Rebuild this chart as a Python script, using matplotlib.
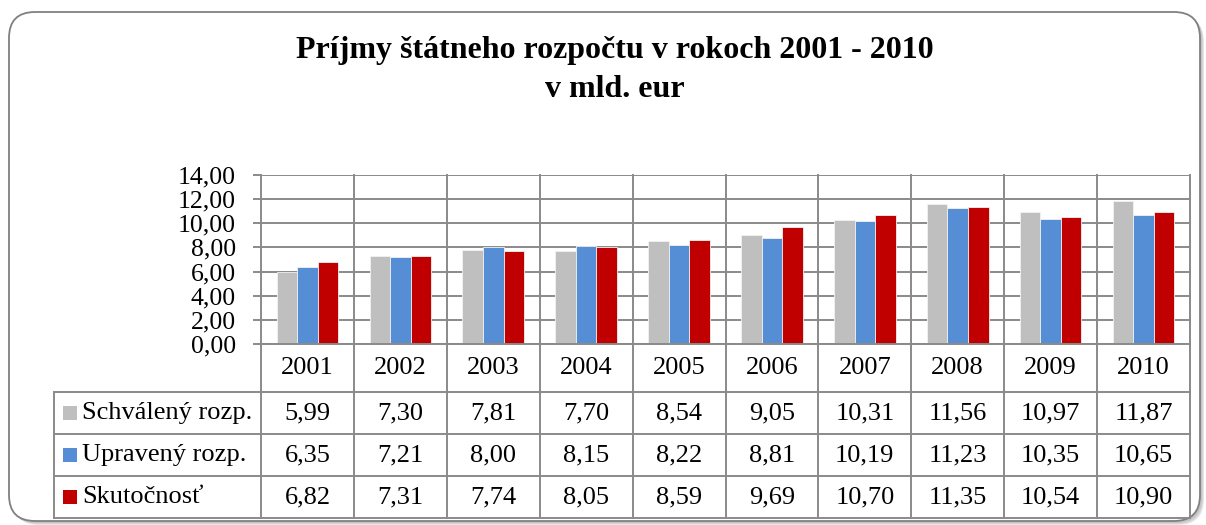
import matplotlib
matplotlib.use("Agg")
import matplotlib.pyplot as plt
from matplotlib.patches import FancyBboxPatch, Rectangle
from matplotlib.lines import Line2D
from matplotlib.transforms import IdentityTransform, blended_transform_factory

years = ["2001", "2002", "2003", "2004", "2005", "2006", "2007", "2008", "2009", "2010"]
schvaleny = [5.99, 7.30, 7.81, 7.70, 8.54, 9.05, 10.31, 11.56, 10.97, 11.87]
upraveny = [6.35, 7.21, 8.00, 8.15, 8.22, 8.81, 10.19, 11.23, 10.35, 10.65]
skutocnost = [6.82, 7.31, 7.74, 8.05, 8.59, 9.69, 10.70, 11.35, 10.54, 10.90]
series_names = ["Schválený rozp.", "Upravený rozp.", "Skutočnosť"]
series_colors = ["#BFBFBF", "#558ED5", "#C00000"]
title = "Príjmy štátneho rozpočtu v rokoch 2001 - 2010\nv mld. eur"

W, H = 1206, 525
plt.rcParams['font.family'] = ['Liberation Serif', 'DejaVu Serif']
grid_col = "#8A8A8A"
lw = 1.4
fs = 19

fig = plt.figure(figsize=(W / 100, H / 100), dpi=100)
fig.patch.set_facecolor("white")

# rounded frame with a soft shadow
ident = IdentityTransform()
for k, c in enumerate(["#E6E6E6", "#D4D4D4", "#C4C4C4"]):
    off = 4 - k
    fig.add_artist(FancyBboxPatch((9 + off, H - 521 - off), 1191, 509,
                                  boxstyle="round,pad=0,rounding_size=26",
                                  transform=ident, fc=c, ec="none", zorder=0))
fig.add_artist(FancyBboxPatch((9, H - 521), 1191, 509,
                              boxstyle="round,pad=0,rounding_size=26",
                              transform=ident, fc="white", ec="#808080", lw=1.3, zorder=1))

fig.text(615 / W, 1 - 70 / H, title, ha="center", va="center", fontsize=23,
         fontweight="bold", linespacing=1.45, zorder=3)

# plot area
x0, x1, ytop, ybot = 261, 1190, 175, 344
ax = fig.add_axes([x0 / W, 1 - ybot / H, (x1 - x0) / W, (ybot - ytop) / H], zorder=2)
ax.set_facecolor("none")
n = len(years)
bw = 0.221
xs = list(range(n))
for j, (vals, col) in enumerate(zip([schvaleny, upraveny, skutocnost], series_colors)):
    ax.bar([x + (j - 1) * bw for x in xs], vals, width=bw, color=col,
           edgecolor="#F2F2F2", linewidth=0.6, zorder=3)
ax.set_xlim(-0.5, n - 0.5)
ax.set_ylim(0, 14)
ax.set_yticks(range(0, 15, 2))
ax.set_yticklabels([f"{v:.2f}".replace(".", ",") for v in range(0, 15, 2)], fontsize=18.5)
ax.tick_params(axis="y", length=6, width=lw, color=grid_col, pad=12)
ax.tick_params(axis="x", length=0, labelbottom=False)
ax.yaxis.grid(True, color=grid_col, linewidth=lw, zorder=1)
for s in ax.spines.values():
    s.set_visible(False)
ax.set_axisbelow(True)

# data table under the plot
tr = blended_transform_factory(ax.transData, ax.transAxes)
hpx = ybot - ytop
def fy(py):
    return (ybot - py) / hpx

row_lines = [392, 434, 476, 518]
left_px = 54
xl_data = -0.5 - (x0 - left_px) / ((x1 - x0) / n)

def line(xa, xb, ya, yb):
    ax.add_line(Line2D([xa, xb], [ya, yb], transform=tr, color=grid_col,
                       lw=lw, clip_on=False, zorder=4))

for b in range(n + 1):
    line(b - 0.5, b - 0.5, fy(ytop), fy(518))
for py in row_lines:
    line(xl_data, n - 0.5, fy(py), fy(py))
line(xl_data, xl_data, fy(392), fy(518))
line(-0.5, n - 0.5, fy(ybot), fy(ybot))

for i, yr in enumerate(years):
    ax.text(i, fy((ybot + 392) / 2), yr, transform=tr, ha="center", va="center",
            fontsize=fs, clip_on=False)

rows = [schvaleny, upraveny, skutocnost]
for r, (vals, name, col) in enumerate(zip(rows, series_names, series_colors)):
    yc = fy((row_lines[r] + row_lines[r + 1]) / 2)
    for i, v in enumerate(vals):
        ax.text(i, yc, f"{v:.2f}".replace(".", ","), transform=tr, ha="center",
                va="center", fontsize=fs, clip_on=False)
    fig.add_artist(Rectangle((63, H - (row_lines[r] + row_lines[r + 1]) / 2 - 7), 14, 14,
                             transform=ident, fc=col, ec="none", zorder=5))
    fig.text(82 / W, 1 - (row_lines[r] + row_lines[r + 1]) / 2 / H, name,
             ha="left", va="center", fontsize=fs, zorder=5)

fig.savefig("out.png", dpi=100)
